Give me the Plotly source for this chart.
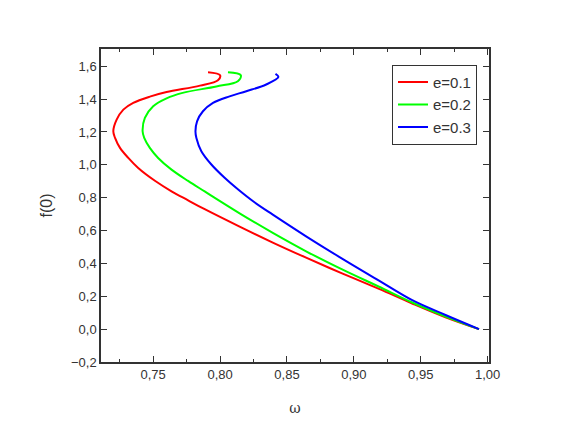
import plotly.graph_objects as go

omega_e01 = [0.791, 0.800, 0.7984, 0.785, 0.760, 0.7475, 0.7351, 0.7277, 0.7227, 0.7202,
             0.7215, 0.7252, 0.7314, 0.7388, 0.7513, 0.7637, 0.7761, 0.7885, 0.8146,
             0.8394, 0.8643, 0.8916, 0.9188, 0.9436, 0.9685, 0.9935]
f0_e01 = [1.563, 1.545, 1.515, 1.482, 1.443, 1.415, 1.377, 1.336, 1.275, 1.204,
          1.164, 1.103, 1.042, 0.981, 0.903, 0.839, 0.784, 0.730, 0.624,
          0.527, 0.435, 0.338, 0.245, 0.156, 0.072, 0.0]

omega_e02 = [0.8059, 0.8155, 0.8133, 0.7972, 0.772, 0.760, 0.750, 0.7438, 0.7421, 0.7433,
             0.7475, 0.7537, 0.7637, 0.7761, 0.7885, 0.8146, 0.8394, 0.8643, 0.8916,
             0.9188, 0.9436, 0.9685, 0.9935]
f0_e02 = [1.563, 1.545, 1.509, 1.477, 1.438, 1.405, 1.357, 1.286, 1.204, 1.164,
          1.103, 1.042, 0.971, 0.902, 0.838, 0.705, 0.586, 0.474, 0.362,
          0.258, 0.162, 0.077, 0.0]

omega_e03 = [0.8414, 0.8436, 0.8345, 0.8196, 0.8071, 0.7947, 0.7872, 0.7828, 0.7816, 0.7823,
             0.786, 0.7935, 0.8034, 0.8133, 0.8257, 0.8394, 0.8643, 0.889, 0.9188,
             0.9436, 0.9685, 0.9935]
f0_e03 = [1.554, 1.535, 1.489, 1.448, 1.417, 1.377, 1.326, 1.265, 1.204, 1.164,
          1.083, 1.002, 0.921, 0.851, 0.772, 0.697, 0.565, 0.440, 0.295,
          0.176, 0.086, 0.0]

series = [
    ("e=0.1", omega_e01, f0_e01, "#ff0000"),
    ("e=0.2", omega_e02, f0_e02, "#00ff00"),
    ("e=0.3", omega_e03, f0_e03, "#0000ff"),
]

fig = go.Figure()
for name, x, y, color in series:
    fig.add_trace(go.Scatter(
        x=x, y=y, name=name, mode="lines",
        line=dict(color=color, width=2, shape="spline", smoothing=1),
    ))

axis_style = dict(
    showline=True, linecolor="#333333", linewidth=1.5, mirror="ticks",
    ticks="inside", ticklen=6, tickcolor="#333333", tickwidth=1.2,
    showgrid=False, zeroline=False,
    tickfont=dict(family="Liberation Sans, Arial", size=13, color="#333333"),
)

fig.update_xaxes(
    range=[0.711, 1.001], tickvals=[0.75, 0.80, 0.85, 0.90, 0.95, 1.00],
    tickformat=".2f",
    minor=dict(ticks="inside", ticklen=3, tickcolor="#333333", dtick=0.025,
               tick0=0.725, showgrid=False),
    title=dict(text="ω", font=dict(family="DejaVu Serif", size=14, color="#333333"),
               standoff=22),
    **axis_style,
)
fig.update_yaxes(
    range=[-0.2, 1.705], tickvals=[-0.2, 0, 0.2, 0.4, 0.6, 0.8, 1.0, 1.2, 1.4, 1.6],
    tickformat=".1f",
    title=dict(text="f(0)", font=dict(family="Liberation Sans, Arial", size=16, color="#333333"),
               standoff=14),
    **axis_style,
)

# the page body adds an 8px offset, so the figure is drawn 8px smaller
fig.update_layout(
    width=561, height=428,
    margin=dict(l=93, r=80, t=41, b=74),
    paper_bgcolor="white", plot_bgcolor="white",
    separators=",.",
    showlegend=True,
    legend=dict(
        x=0.75, y=0.95, xanchor="left", yanchor="top",
        bordercolor="#333333", borderwidth=1, bgcolor="white",
        font=dict(family="Liberation Sans, Arial", size=15, color="#333333"),
        tracegroupgap=0, itemwidth=30,
    ),
)

fig.write_html("out.html")
